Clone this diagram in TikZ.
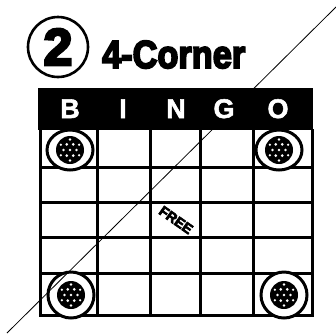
\documentclass[tikz,border=0pt]{standalone}
\usepackage{fontspec}
\setmainfont{Liberation Sans}
\newfontfamily\heavyfont[FakeBold=5]{Liberation Sans Bold}
\newfontfamily\cardfont[FakeBold=2]{Liberation Sans Bold}
\usepackage{tikz}
\usetikzlibrary{positioning,calc}

\tikzset{
  gridline/.style={line width=3pt, line cap=rect},
  colletter/.style={text=white, font=\fontsize{27}{27}\selectfont\cardfont, anchor=base},
  chipring/.style={line width=3pt, fill=white},
}

\begin{document}
\begin{tikzpicture}[x=1pt, y=-1pt]
  \useasboundingbox (0,0) rectangle (336,333);

  % Title (number in a circle)
  \node[circle, draw, line width=2.6pt, minimum size=60pt, inner sep=0pt,
        font=\fontsize{52}{52}\selectfont\heavyfont] (num) at (58,47) {2};
  \node[anchor=base west, xscale=0.88, inner sep=0pt,
        font=\fontsize{39}{39}\selectfont\heavyfont] (title) at (102,68) {4-Corner};

  % Card grid
  \foreach \x in {40,97,150,200,253,312}
    \draw[gridline] (\x,130) -- (\x,315);
  \foreach \y in {167,202,237,273,315}
    \draw[gridline] (40,\y) -- (312,\y);

  % Corner chips
  \foreach \cx/\cy/\ry in {70/150/20, 279/150/20, 71/295/23, 284/295/23} {
    \draw[chipring] (\cx,\cy) ellipse (23 and \ry);
    \fill (\cx,\cy) circle (14);
    \fill[white] (\cx,\cy) circle (1.4);
    \foreach \a in {0,60,...,300}
      \fill[white] ($(\cx,\cy)+(\a:6.5)$) circle (1.4);
    \foreach \a in {30,90,...,330}
      \fill[white] ($(\cx,\cy)+(\a:10.5)$) circle (1.3);
  }

  % Free space
  \node[rotate=-35, inner sep=0pt, font=\fontsize{14}{14}\selectfont\heavyfont] (free) at (176,220) {FREE};

  % Diagonal stroke across the page
  \coordinate (top) at (336,7);
  \coordinate (bot) at (7,333);
  \draw[line width=0.8pt] (top) -- (bot);

  % Header band (on top of the stroke)
  \fill (38,88) rectangle (313,130);
  \node[colletter] (hb) at (70,118) {B};
  \node[colletter] (hi) at (123,118) {I};
  \node[colletter] (hn) at (176,118) {N};
  \node[colletter] (hg) at (224,118) {G};
  \node[colletter] (ho) at (278,118) {O};
\end{tikzpicture}
\end{document}
